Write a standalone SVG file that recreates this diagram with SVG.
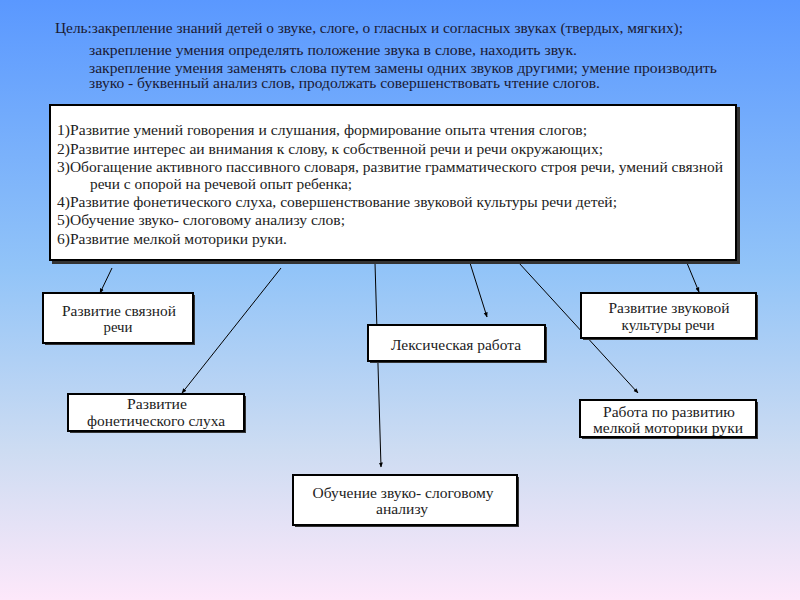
<svg xmlns="http://www.w3.org/2000/svg" width="800" height="600" viewBox="0 0 800 600" font-family="'Liberation Serif', 'DejaVu Serif', serif" font-size="14">
<defs>
<linearGradient id="bg" x1="0" y1="0" x2="0" y2="1">
<stop offset="0" stop-color="#5a98ff"/>
<stop offset="0.45" stop-color="#92c4f8"/>
<stop offset="0.75" stop-color="#cddcf2"/>
<stop offset="1" stop-color="#fde8fa"/>
</linearGradient>
<marker id="arr" viewBox="0 0 10 10" refX="9" refY="5" markerWidth="5" markerHeight="5" orient="auto" markerUnits="userSpaceOnUse">
<path d="M0,1 L10,5 L0,9 z" fill="#000"/>
</marker>
</defs>
<style>
.t{fill:#222}
.top{fill:#1a1a33}
.c{text-anchor:middle}
.box{fill:#fff;stroke:#000;stroke-width:2}
.sh{fill:#333}
.ln{stroke:#000;stroke-width:1;fill:none;marker-end:url(#arr)}
</style>
<rect width="800" height="600" fill="url(#bg)"/>
<g id="goal">
<text class="top" x="55" y="33" textLength="628" lengthAdjust="spacingAndGlyphs">Цель:закрепление знаний детей о звуке, слоге, о гласных и согласных звуках (твердых, мягких);</text>
<text class="top" x="89" y="55" textLength="488" lengthAdjust="spacingAndGlyphs">закрепление умения  определять положение звука в слове, находить звук.</text>
<text class="top" x="89" y="73" textLength="628" lengthAdjust="spacingAndGlyphs">закрепление умения заменять слова путем замены одних звуков другими; умение производить</text>
<text class="top" x="89" y="88" textLength="511" lengthAdjust="spacingAndGlyphs">звуко - буквенный анализ слов, продолжать совершенствовать чтение слогов.</text>
</g>
<g id="connectors">
<line class="ln" x1="112" y1="268" x2="100" y2="293"/>
<line class="ln" x1="281" y1="268" x2="182" y2="393"/>
<line class="ln" x1="375" y1="263" x2="381" y2="467"/>
<line class="ln" x1="470" y1="263" x2="487" y2="317"/>
<line class="ln" x1="519" y1="263" x2="638" y2="393"/>
<line class="ln" x1="687" y1="263" x2="699" y2="292"/>
</g>
<g id="tasks">
<rect class="sh" x="52" y="107" width="688" height="157"/>
<rect class="box" x="50" y="105" width="686" height="155"/>
<text class="t" x="57" y="135" textLength="530" lengthAdjust="spacingAndGlyphs">1)Развитие умений говорения и слушания, формирование опыта чтения слогов;</text>
<text class="t" x="57" y="154" textLength="546" lengthAdjust="spacingAndGlyphs">2)Развитие интерес аи внимания к слову, к собственной речи и речи окружающих;</text>
<text class="t" x="57" y="172" textLength="666" lengthAdjust="spacingAndGlyphs">3)Обогащение активного пассивного словаря, развитие грамматического строя речи, умений связной</text>
<text class="t" x="90" y="189" textLength="262" lengthAdjust="spacingAndGlyphs">речи с опорой на речевой опыт ребенка;</text>
<text class="t" x="57" y="207" textLength="560" lengthAdjust="spacingAndGlyphs">4)Развитие фонетического слуха, совершенствование звуковой культуры речи детей;</text>
<text class="t" x="57" y="225" textLength="288" lengthAdjust="spacingAndGlyphs">5)Обучение звуко- слоговому анализу слов;</text>
<text class="t" x="57" y="244" textLength="230" lengthAdjust="spacingAndGlyphs">6)Развитие мелкой моторики руки.</text>
</g>
<g id="n1">
<rect class="sh" x="45" y="295" width="150" height="50"/>
<rect class="box" x="43" y="293" width="150" height="50"/>
<text class="t c" x="119" y="316" textLength="114" lengthAdjust="spacingAndGlyphs">Развитие связной</text>
<text class="t c" x="118" y="332" textLength="29" lengthAdjust="spacingAndGlyphs">речи</text>
</g>
<g id="n2">
<rect class="sh" x="70" y="396" width="176" height="37"/>
<rect class="box" x="68" y="394" width="176" height="37"/>
<text class="t c" x="157" y="409" textLength="60" lengthAdjust="spacingAndGlyphs">Развитие</text>
<text class="t c" x="156" y="426" textLength="138" lengthAdjust="spacingAndGlyphs">фонетического слуха</text>
</g>
<g id="n3">
<rect class="sh" x="370" y="327" width="177" height="36"/>
<rect class="box" x="368" y="325" width="177" height="36"/>
<text class="t c" x="456" y="350" textLength="130" lengthAdjust="spacingAndGlyphs">Лексическая работа</text>
</g>
<g id="n4">
<rect class="sh" x="295" y="477" width="224" height="50"/>
<rect class="box" x="293" y="475" width="224" height="50"/>
<text class="t c" x="403" y="498" textLength="181" lengthAdjust="spacingAndGlyphs">Обучение звуко- слоговому</text>
<text class="t c" x="402" y="514" textLength="52" lengthAdjust="spacingAndGlyphs">анализу</text>
</g>
<g id="n5">
<rect class="sh" x="583" y="295" width="175" height="45"/>
<rect class="box" x="581" y="293" width="175" height="45"/>
<text class="t c" x="669" y="313" textLength="121" lengthAdjust="spacingAndGlyphs">Развитие звуковой</text>
<text class="t c" x="668" y="330" textLength="93" lengthAdjust="spacingAndGlyphs">культуры речи</text>
</g>
<g id="n6">
<rect class="sh" x="582" y="402" width="176" height="37"/>
<rect class="box" x="580" y="400" width="176" height="37"/>
<text class="t c" x="669" y="417" textLength="132" lengthAdjust="spacingAndGlyphs">Работа по развитию</text>
<text class="t c" x="668" y="433" textLength="150" lengthAdjust="spacingAndGlyphs">мелкой моторики руки</text>
</g>
</svg>
